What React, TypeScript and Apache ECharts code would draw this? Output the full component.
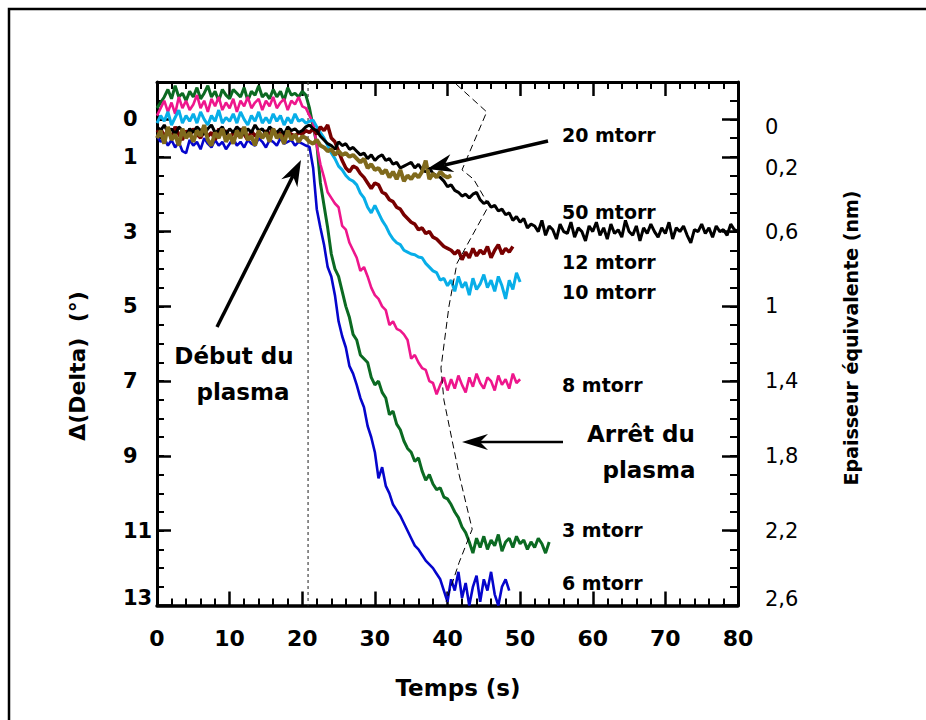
import React, { useEffect, useRef } from 'react';
import * as echarts from 'echarts';

// time step between samples (s); every series starts at t = 0
const T_STEP = 0.5;

// Δ(Delta) values (°), sampled every 0.5 s
const blue6 = [
  0.45, 0.6, 0.5, 0.7, 0.55, 0.75, 0.6, 0.85, 0.9, 0.55,
  0.7, 0.6, 0.8, 0.5, 0.65, 0.75, 0.55, 0.7, 0.6, 0.8,
  0.65, 0.5, 0.7, 0.6, 0.75, 0.55, 0.65, 0.7, 0.5, 0.6,
  0.75, 0.55, 0.6, 0.7, 0.5, 0.65, 0.6, 0.55, 0.7, 0.6,
  0.65, 0.7, 0.74, 1.3, 2.4, 2.9, 3.35, 3.95, 4.2, 4.7,
  5.4, 5.8, 6.1, 6.6, 6.8, 7.1, 7.45, 7.7, 8.2, 8.5,
  8.9, 9.6, 9.3, 9.8, 10.0, 10.3, 10.45, 10.6, 10.8, 11.0,
  11.2, 11.4, 11.5, 11.65, 11.8, 11.9, 12.0, 12.15, 12.3, 12.6,
  12.9, 12.3, 12.6, 12.1, 12.8, 12.4, 13.0, 12.5, 12.2, 12.9,
  12.3, 12.6, 12.1, 12.7, 13.0, 12.5, 12.3, 12.6,
];

const green3 = [
  -0.3, -0.45, -0.6, -0.8, -0.55, -0.9, -0.6, -0.7, -0.5, -0.75,
  -0.6, -0.85, -0.55, -0.7, -0.9, -0.6, -0.75, -0.5, -0.8, -0.65,
  -0.55, -0.8, -0.7, -0.6, -0.85, -0.5, -0.75, -0.65, -0.9, -0.6,
  -0.7, -0.55, -0.8, -0.6, -0.75, -0.5, -0.85, -0.65, -0.7, -0.6,
  -0.75, -0.65, -0.3, 0.2, 0.65, 1.7, 2.3, 2.9, 3.6, 4.0,
  4.2, 4.6, 5.0, 5.3, 5.75, 5.9, 6.3, 6.4, 6.5, 6.9,
  7.1, 7.0, 7.3, 7.45, 7.9, 7.8, 8.15, 8.3, 8.6, 8.8,
  8.9, 9.15, 9.05, 9.4, 9.65, 9.5, 9.75, 9.9, 9.85, 10.1,
  10.15, 10.3, 10.5, 10.65, 10.9, 11.05, 11.3, 11.6, 11.2, 11.45,
  11.15, 11.5, 11.25, 11.4, 11.1, 11.55, 11.3, 11.2, 11.45, 11.15,
  11.35, 11.25, 11.5, 11.3, 11.45, 11.2, 11.35, 11.6, 11.3,
];

const pink8 = [
  -0.1, -0.3, -0.5, -0.2, -0.45, -0.15, -0.6, -0.3, -0.5, -0.25,
  -0.4, -0.65, -0.3, -0.5, -0.2, -0.55, -0.35, -0.6, -0.25, -0.45,
  -0.3, -0.55, -0.2, -0.5, -0.35, -0.6, -0.3, -0.45, -0.55, -0.25,
  -0.5, -0.35, -0.6, -0.3, -0.45, -0.55, -0.25, -0.5, -0.4, -0.6,
  -0.35, -0.3, -0.1, 0.1, 0.7, 1.2, 1.55, 1.95, 2.1, 2.25,
  2.35, 2.85, 2.95, 3.3, 3.5, 3.7, 4.05, 3.95, 4.2, 4.5,
  4.7, 4.8, 5.0, 5.1, 5.5, 5.4, 5.6, 5.65, 5.75, 5.9,
  6.4, 6.3, 6.5, 6.65, 6.7, 7.0, 7.05, 7.35, 7.1, 6.9,
  7.25, 6.95, 7.2, 6.85, 7.1, 7.3, 6.9, 7.15, 6.8, 7.05,
  7.2, 6.9, 7.0, 7.25, 6.85, 7.1, 6.95, 7.2, 6.8, 7.05,
  6.95,
];

const cyan10 = [
  0.1, -0.1, 0.05, -0.2, 0.15, -0.05, -0.25, 0.1, -0.1, 0.05,
  -0.15, 0.1, -0.2, 0.0, 0.15, -0.1, 0.05, -0.25, 0.1, -0.05,
  0.05, -0.15, 0.1, -0.2, 0.0, 0.15, -0.1, 0.05, -0.2, 0.1,
  -0.05, 0.1, -0.15, 0.05, -0.1, 0.15, -0.05, 0.1, -0.15, 0.05,
  0.0, 0.1, 0.05, 0.02, 0.2, 0.35, 0.5, 0.7, 0.9, 1.05,
  1.25, 1.35, 1.5, 1.6, 1.65, 1.75, 1.97, 2.1, 2.35, 2.5,
  2.3, 2.5, 2.7, 2.85, 3.05, 3.2, 3.3, 3.35, 3.5, 3.55,
  3.6, 3.62, 3.68, 3.7, 3.85, 3.95, 4.05, 4.1, 4.3, 4.25,
  4.45, 4.3, 4.6, 4.2, 4.5, 4.35, 4.7, 4.25, 4.55, 4.4,
  4.15, 4.5, 4.3, 4.6, 4.2, 4.45, 4.8, 4.3, 4.55, 4.1,
  4.35,
];

const brown12 = [
  0.35, 0.25, 0.45, 0.3, 0.5, 0.2, 0.4, 0.55, 0.3, 0.45,
  0.25, 0.4, 0.5, 0.3, 0.45, 0.35, 0.55, 0.25, 0.4, 0.3,
  0.5, 0.35, 0.45, 0.25, 0.4, 0.55, 0.3, 0.45, 0.35, 0.5,
  0.3, 0.4, 0.25, 0.45, 0.35, 0.5, 0.3, 0.4, 0.45, 0.35,
  0.4, 0.3, 0.35, 0.25, 0.4, 0.2, 0.3, 0.15, 0.5, 0.6,
  0.85, 1.1, 1.3, 1.4, 1.25, 1.3, 1.45, 1.55, 1.7, 1.85,
  1.7, 1.75, 1.95, 2.0, 2.15, 2.2, 2.35, 2.4, 2.55, 2.65,
  2.75, 2.8, 2.95, 2.9, 3.05, 3.0, 3.15, 3.2, 3.3, 3.4,
  3.45, 3.5, 3.6, 3.5, 3.75, 3.55, 3.7, 3.45, 3.65, 3.5,
  3.6, 3.4, 3.7, 3.5, 3.35, 3.6, 3.45, 3.55, 3.4,
];

const black50 = [
  0.2, 0.3, 0.15, 0.35, 0.25, 0.4, 0.2, 0.3, 0.45, 0.25,
  0.35, 0.2, 0.3, 0.4, 0.25, 0.15, 0.35, 0.3, 0.2, 0.4,
  0.25, 0.35, 0.2, 0.3, 0.4, 0.25, 0.35, 0.15, 0.3, 0.25,
  0.4, 0.2, 0.3, 0.35, 0.25, 0.4, 0.2, 0.3, 0.25, 0.35,
  0.3, 0.2, 0.15, 0.25, 0.3, 0.45, 0.55, 0.65, 0.7, 0.8,
  0.6, 0.7, 0.65, 0.8, 0.75, 0.85, 0.95, 0.9, 1.05, 0.95,
  1.1, 1.0, 0.95, 1.1, 1.05, 1.2, 1.15, 1.3, 1.25, 1.2,
  1.15, 1.3, 1.2, 1.35, 1.4, 1.3, 1.45, 1.5, 1.55, 1.65,
  1.8, 1.75, 1.9, 1.95, 2.05, 2.0, 2.1, 2.0, 1.95, 2.15,
  2.25, 2.2, 2.35, 2.3, 2.45, 2.4, 2.55, 2.5, 2.7, 2.6,
  2.75, 2.65, 2.9, 2.8, 2.85, 3.0, 2.7, 3.1, 2.85, 2.95,
  3.2, 2.8, 3.0, 3.05, 2.75, 3.15, 2.9, 3.0, 3.25, 2.85,
  3.0, 2.75, 3.1, 2.9, 3.2, 2.8, 3.05, 2.95, 3.15, 2.7,
  3.0, 3.1, 2.85, 3.25, 2.9, 3.05, 2.8, 3.0, 3.15, 2.9,
  3.05, 2.75, 3.2, 2.9, 3.0, 2.85, 3.1, 3.3, 2.95, 3.0,
  2.8, 3.05, 2.9, 3.15, 2.85, 3.0, 2.95, 3.1, 2.8, 2.95,
  3.0,
];

const gold20 = [
  0.5, 0.3, 0.65, 0.2, 0.55, 0.4, 0.7, 0.25, 0.5, 0.35,
  0.6, 0.3, 0.45, 0.15, 0.55, 0.7, 0.35, 0.5, 0.25, 0.6,
  0.4, 0.65, 0.3, 0.5, 0.2, 0.55, 0.45, 0.7, 0.3, 0.5,
  0.35, 0.6, 0.25, 0.5, 0.4, 0.65, 0.3, 0.55, 0.4, 0.6,
  0.45, 0.5, 0.6, 0.65, 0.55, 0.7, 0.75, 0.85, 0.8, 0.95,
  0.85, 0.95, 0.9, 1.0, 0.95, 1.05, 1.15, 1.05, 1.3, 1.2,
  1.35, 1.3, 1.45, 1.35, 1.55, 1.4, 1.6, 1.35, 1.65, 1.5,
  1.6, 1.45, 1.55, 1.4, 1.1, 1.6, 1.45, 1.55, 1.4, 1.5,
  1.55, 1.5,
];

// end-of-plasma points (dashed guide)
const stopTimes = [41.2, 45.4, 42.0, 43.6, 45.7, 41.3, 40.2, 39.1, 39.5, 41.6, 43.4, 41.6, 39.8];
const stopDeltas = [-0.94, -0.2, 1.35, 1.6, 2.3, 3.85, 5.0, 6.65, 7.5, 9.5, 10.96, 11.85, 12.9];

const plasmaStart = 20.8;

const leftTickLabels = [0, 1, 3, 5, 7, 9, 11, 13];
const rightTickLabels = [0, 0.2, 0.6, 1, 1.4, 1.8, 2.2, 2.6];

const FONT = '"DejaVu Sans", Verdana, sans-serif';

function toPairs(vals: number[]) {
  return vals.map((v, i) => [i * T_STEP, v]);
}

function arrow(tail: number[], tip: number[], width: number, L: number, W: number, N: number) {
  const dx = tip[0] - tail[0];
  const dy = tip[1] - tail[1];
  const len = Math.hypot(dx, dy);
  const ux = dx / len;
  const uy = dy / len;
  const nx = -uy;
  const ny = ux;
  const base = [tip[0] - N * ux, tip[1] - N * uy];
  return [
    {
      type: 'line',
      silent: true,
      z: 100,
      shape: { x1: tail[0], y1: tail[1], x2: base[0], y2: base[1] },
      style: { stroke: '#000', lineWidth: width },
    },
    {
      type: 'polygon',
      silent: true,
      z: 100,
      shape: {
        points: [
          tip,
          [tip[0] - L * ux + W * nx, tip[1] - L * uy + W * ny],
          base,
          [tip[0] - L * ux - W * nx, tip[1] - L * uy - W * ny],
        ],
      },
      style: { fill: '#000' },
    },
  ];
}

function label(text: string, x: number, y: number, size: number, align = 'left', rotation = 0, weight = 'bold') {
  return {
    type: 'text',
    silent: true,
    z: 100,
    x,
    y,
    rotation,
    style: {
      text,
      font: `${weight} ${size}px ${FONT}`,
      fill: '#000',
      textAlign: align,
      textVerticalAlign: 'middle',
    },
  };
}

export default function App() {
  const ref = useRef<HTMLDivElement>(null);

  useEffect(() => {
    if (!ref.current) return;
    const chart = echarts.init(ref.current, undefined, { renderer: 'svg' });

    const lineSeries = (name: string, vals: number[], color: string, width: number) => ({
      name,
      type: 'line',
      data: toPairs(vals),
      showSymbol: false,
      symbol: 'none',
      lineStyle: { color, width },
      xAxisIndex: 0,
      yAxisIndex: 0,
    });

    const tickLabelBold = { fontFamily: FONT, fontWeight: 'bold', fontSize: 21, color: '#000' };
    const tickLabelReg = { fontFamily: FONT, fontWeight: 'normal', fontSize: 21, color: '#000' };

    const option: any = {
      animation: false,
      backgroundColor: '#fff',
      grid: { left: 157, right: 188, top: 82, bottom: 114.5, containLabel: false },
      xAxis: [
        {
          type: 'value',
          position: 'bottom',
          min: 0,
          max: 80,
          interval: 10,
          axisLine: { show: true, onZero: false, lineStyle: { color: '#000', width: 3.5 } },
          axisTick: { show: true, inside: true, length: 14, lineStyle: { color: '#000', width: 2.5 } },
          minorTick: { show: true, splitNumber: 5, length: 7, lineStyle: { color: '#000', width: 2 } },
          axisLabel: { margin: 22, fontSize: 22, fontWeight: 'bold', fontFamily: FONT, color: '#000' },
          splitLine: { show: false },
        },
        {
          type: 'value',
          position: 'top',
          min: 0,
          max: 80,
          interval: 10,
          axisLine: { show: true, onZero: false, lineStyle: { color: '#000', width: 3 } },
          axisTick: { show: true, inside: true, length: 14, lineStyle: { color: '#000', width: 2.5 } },
          minorTick: { show: true, splitNumber: 5, length: 7, lineStyle: { color: '#000', width: 2 } },
          axisLabel: { show: false },
          splitLine: { show: false },
        },
      ],
      yAxis: [
        {
          type: 'value',
          position: 'left',
          inverse: true,
          min: -1,
          max: 13,
          interval: 0.5,
          axisLine: { show: true, onZero: false, lineStyle: { color: '#000', width: 3 } },
          axisTick: { show: true, inside: true, length: 7, lineStyle: { color: '#000', width: 2 } },
          axisLabel: {
            customValues: leftTickLabels,
            align: 'left',
            margin: 34,
            ...tickLabelBold,
            formatter: (v: number) => (v === 13 ? `{up|${v}}` : `${v}`),
            rich: { up: { ...tickLabelBold, padding: [0, 0, 16, 0] } },
          },
          splitLine: { show: false },
        },
        {
          type: 'value',
          position: 'left',
          inverse: true,
          min: -1,
          max: 13,
          axisLine: { show: false, onZero: false },
          axisTick: { show: true, inside: true, length: 14, customValues: leftTickLabels, lineStyle: { color: '#000', width: 2.5 } },
          axisLabel: { show: false },
          splitLine: { show: false },
        },
        {
          type: 'value',
          position: 'right',
          inverse: true,
          min: -0.2,
          max: 2.6,
          interval: 0.1,
          axisLine: { show: true, onZero: false, lineStyle: { color: '#000', width: 3 } },
          axisTick: { show: true, inside: true, length: 8, lineStyle: { color: '#000', width: 2 } },
          axisLabel: {
            customValues: rightTickLabels,
            margin: 27,
            ...tickLabelReg,
            formatter: (v: number) => {
              const s = String(Math.round(v * 10) / 10).replace('.', ',');
              if (v === 0) return `{d1|${s}}`;
              if (Math.abs(v - 0.2) < 1e-9) return `{d2|${s}}`;
              if (Math.abs(v - 2.6) < 1e-9) return `{u1|${s}}`;
              return s;
            },
            rich: {
              d1: { ...tickLabelReg, padding: [16, 0, 0, 0] },
              d2: { ...tickLabelReg, padding: [22, 0, 0, 0] },
              u1: { ...tickLabelReg, padding: [0, 0, 14, 0] },
            },
          },
          splitLine: { show: false },
        },
        {
          type: 'value',
          position: 'right',
          inverse: true,
          min: -0.2,
          max: 2.6,
          axisLine: { show: false, onZero: false },
          axisTick: { show: true, inside: true, length: 16, customValues: rightTickLabels, lineStyle: { color: '#000', width: 2.5 } },
          axisLabel: { show: false },
          splitLine: { show: false },
        },
      ],
      series: [
        {
          name: 'plasma-start',
          type: 'line',
          data: [[plasmaStart, -1], [plasmaStart, 13]],
          showSymbol: false,
          symbol: 'none',
          lineStyle: { color: '#444', width: 1.2, type: [3, 3] },
        },
        lineSeries('3 mtorr', green3, '#0b6a22', 3),
        lineSeries('8 mtorr', pink8, '#ee168c', 2.6),
        lineSeries('10 mtorr', cyan10, '#08aee8', 3),
        lineSeries('6 mtorr', blue6, '#0505cc', 2.6),
        lineSeries('12 mtorr', brown12, '#780000', 3.5),
        lineSeries('50 mtorr', black50, '#000000', 3),
        lineSeries('20 mtorr', gold20, '#806a1c', 4),
        {
          name: 'plasma-stop',
          type: 'line',
          data: stopTimes.map((t, i) => [t, stopDeltas[i]]),
          showSymbol: false,
          symbol: 'none',
          lineStyle: { color: '#000', width: 1, type: [7, 4] },
          z: 5,
        },
      ],
      graphic: [
        {
          type: 'rect',
          silent: true,
          z: 0,
          shape: { x: 9, y: 9, width: 1000, height: 1000 },
          style: { fill: 'none', stroke: '#000', lineWidth: 2.5 },
        },
        ...arrow([548, 141], [427, 169], 3.5, 26, 9, 18),
        ...arrow([217, 327], [301, 160], 3.5, 26, 9, 18),
        ...arrow([563, 442], [462, 442], 2.5, 26, 8, 18),
        label('20 mtorr', 562, 135, 19),
        label('50 mtorr', 562, 212, 19),
        label('12 mtorr', 562, 262, 19),
        label('10 mtorr', 562, 292, 19),
        label('8 mtorr', 562, 385, 19),
        label('3 mtorr', 562, 530, 19),
        label('6 mtorr', 562, 583, 19),
        label('Début du', 234, 356, 23, 'center'),
        label('plasma', 243, 392, 23, 'center'),
        label('Arrêt du', 641, 434, 23, 'center'),
        label('plasma', 649, 470, 23, 'center'),
        label('Temps (s)', 458, 688, 23, 'center'),
        label('Δ(Delta)  (°)', 77, 366, 22, 'center', Math.PI / 2),
        label('Epaisseur équivalente (nm)', 851, 338, 19, 'center', Math.PI / 2),
      ],
    };

    chart.setOption(option);
    return () => chart.dispose();
  }, []);

  return (
    <div
      ref={ref}
      style={{ position: 'fixed', left: 0, top: 0, width: 926, height: 720, background: '#fff' }}
    />
  );
}
